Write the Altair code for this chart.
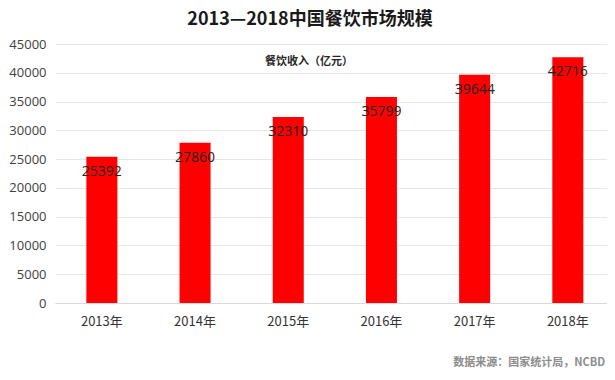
import altair as alt
import pandas as pd

years = ["2013年", "2014年", "2015年", "2016年", "2017年", "2018年"]
revenue = [25392, 27860, 32310, 35799, 39644, 42716]
y_ticks = [0, 5000, 10000, 15000, 20000, 25000, 30000, 35000, 40000, 45000]

title_text = "2013—2018中国餐饮市场规模"
legend_text = "餐饮收入（亿元）"
source_text = "数据来源：国家统计局，NCBD"

FONT = "Noto Sans CJK SC"
NUM_FONT = "Open Sans"

df = pd.DataFrame({"year": years, "value": revenue})

x_enc = alt.X("year:N", sort=years, title=None,
              scale=alt.Scale(paddingInner=0.667, paddingOuter=0.295, align=0.57),
              axis=alt.Axis(labelAngle=0, labelFontSize=13, labelColor="#333333",
                            labelPadding=12, ticks=False, domain=True,
                            domainColor="#d9d9d9", labelFont=FONT))
y_enc = alt.Y("value:Q", title=None,
              scale=alt.Scale(domain=[0, 45000], nice=False),
              axis=alt.Axis(values=y_ticks, labelFontSize=13, labelColor="#404040",
                            labelPadding=9, ticks=False, domain=False,
                            labelOverlap=False, labelBound=False,
                            gridColor="#e6e6e6", labelFont=NUM_FONT, format="d"))

base = alt.Chart(df).encode(x=x_enc, y=y_enc)

bars = base.mark_bar(color="#ff0000")

labels = base.mark_text(
    fontSize=14, color="#262626", baseline="middle", dy=15, font=NUM_FONT
).encode(text="value:Q")

legend = alt.Chart(pd.DataFrame({"t": [legend_text]})).mark_text(
    fontSize=11, fontWeight="bold", color="#262626", font=FONT
).encode(x=alt.value(254), y=alt.value(18), text="t:N")

source = alt.Chart(pd.DataFrame({"t": [source_text]})).mark_text(
    fontSize=11, fontWeight="bold", color="#8c8c8c", align="right", font=FONT
).encode(x=alt.value(550), y=alt.value(60 + 259), text="t:N")

chart = alt.layer(bars, labels, legend, source).properties(
    width=552, height=259,
    autosize=alt.AutoSizeParams(type="none"),
    padding={"left": 47, "top": 36, "right": 0, "bottom": 69},
    title=alt.TitleParams(title_text, fontSize=18, fontWeight="bold",
                          color="#1a1a1a", font=FONT, anchor="middle",
                          dx=-21, offset=9),
).configure_view(stroke=None)

chart.save("out.html", embed_options={"renderer": "svg", "actions": False})
